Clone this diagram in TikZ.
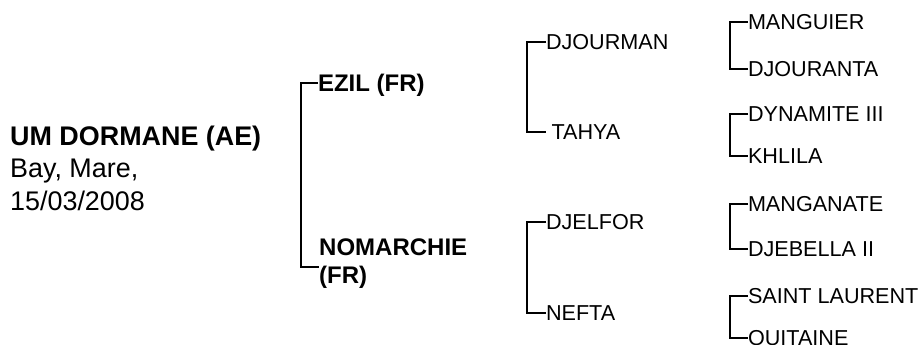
\documentclass[tikz,border=0pt]{standalone}
\usepackage{fontspec}
\setmainfont{Liberation Sans}
\begin{document}
\begin{tikzpicture}[x=1pt,y=-1pt,
  lbl/.style={anchor=west,inner sep=0pt,outer sep=0pt,text depth=0pt},
  gone/.style={lbl,font=\bfseries\fontsize{24}{28}\selectfont,text height=17.2pt},
  gsm/.style={lbl,font=\fontsize{21.6}{25}\selectfont,text height=15.5pt},
  link/.style={line width=2pt,draw=black}]
\useasboundingbox (0,0) rectangle (922,345);
% root
\node[anchor=north west,inner sep=0pt,align=left,font=\fontsize{26.9}{32.5}\selectfont] (root) at (10,125.5)
  {\textbf{UM DORMANE (AE)}\\Bay, Mare,\\15/03/2008};
% generation 1
\node[gone] (ezil) at (318,83) {EZIL (FR)};
\node[anchor=north west,inner sep=0pt,align=left,font=\bfseries\fontsize{24}{28}\selectfont] (nom) at (319,239) {NOMARCHIE\\(FR)};
\draw[link] (ezil.west) -- ++(-17,0) |- ([yshift=-28pt]nom.north west);
% generation 2
\node[gsm] (djourman) at (546,42) {DJOURMAN};
\node[gsm] (tahya) at (546,132) {\hspace{5.5pt}TAHYA};
\node[gsm] (djelfor) at (546,222) {DJELFOR};
\node[gsm] (nefta) at (546,313) {NEFTA};
\draw[link] (djourman.west) -- ++(-19,0) |- (tahya.west);
\draw[link] (djelfor.west) -- ++(-19,0) |- (nefta.west);
% generation 3
\node[gsm] (manguier) at (748,22) {MANGUIER};
\node[gsm] (djouranta) at (748,69) {DJOURANTA};
\node[gsm] (dynamite) at (748,114) {DYNAMITE III};
\node[gsm] (khlila) at (748,156) {KHLILA};
\node[gsm] (manganate) at (748,204) {MANGANATE};
\node[gsm] (djebella) at (748,249) {DJEBELLA II};
\node[gsm] (saint) at (748,295.5) {SAINT LAURENT};
\node[gsm] (quitaine) at (748,338) {QUITAINE};
\draw[link] (manguier.west) -- ++(-18,0) |- (djouranta.west);
\draw[link] (dynamite.west) -- ++(-18,0) |- (khlila.west);
\draw[link] (manganate.west) -- ++(-18,0) |- (djebella.west);
\draw[link] (saint.west) -- ++(-18,0) |- (quitaine.west);
\end{tikzpicture}
\end{document}
